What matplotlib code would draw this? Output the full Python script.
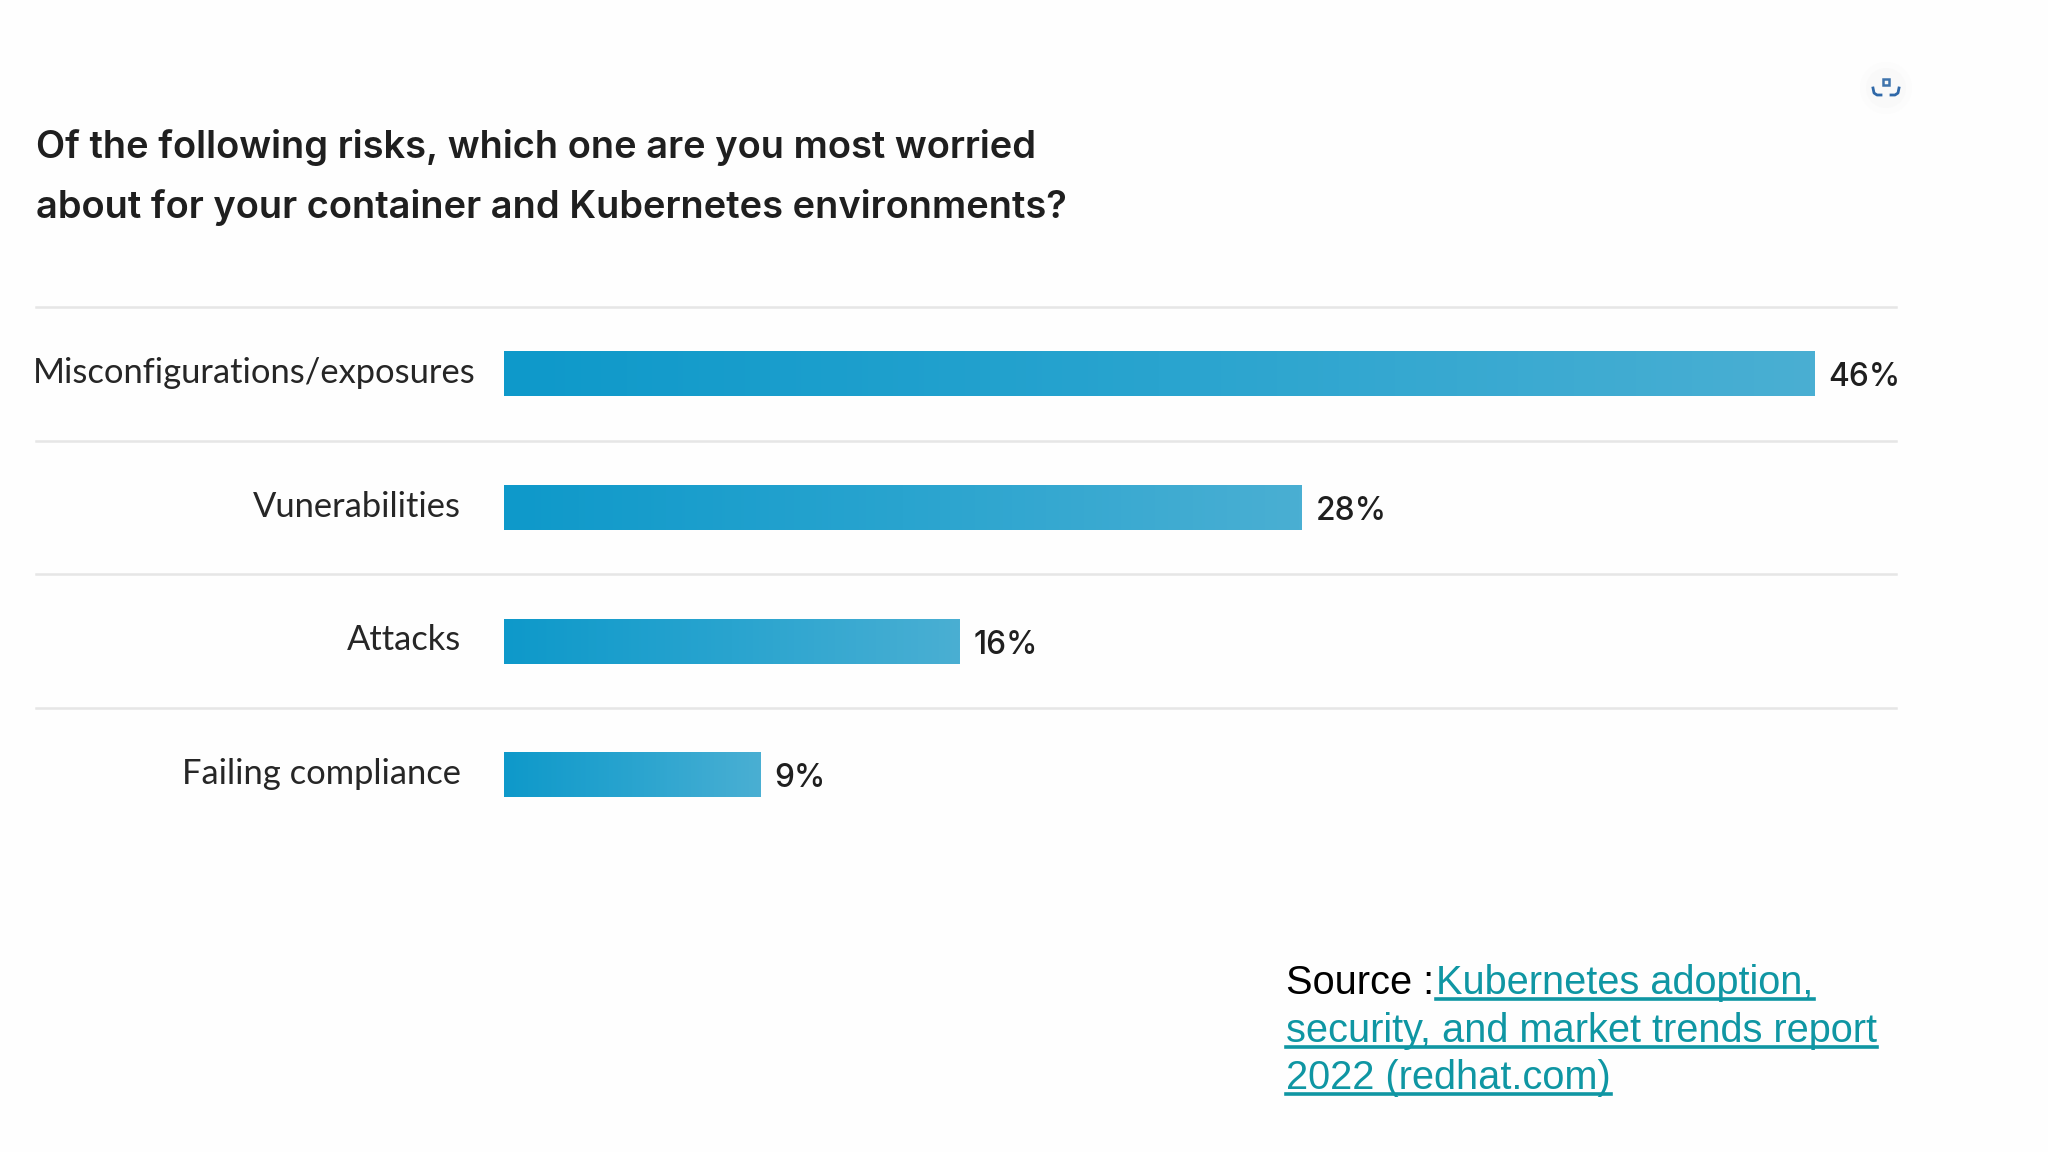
import numpy as np
import matplotlib
matplotlib.use("Agg")
import matplotlib.pyplot as plt
from matplotlib.colors import LinearSegmentedColormap
from matplotlib.lines import Line2D
from matplotlib.patches import Ellipse, Rectangle, Arc

categories = ["Misconfigurations/exposures", "Vunerabilities", "Attacks", "Failing compliance"]
values = [46, 28, 16, 9]
title_lines = ["Of the following risks, which one are you most worried",
               "about for your container and Kubernetes environments?"]
source_prefix = "Source :"
source_link = ["Kubernetes adoption,", "security, and market trends report", "2022 (redhat.com)"]

W, H = 2048, 1152
fig = plt.figure(figsize=(W/100, H/100), dpi=100, facecolor="#fefefe")
FONT = "Inter"
DARK = "#262626"
TEAL = "#0f96a3"

def fx(p): return p / W
def fy(p): return 1 - p / H

# axes: x runs in percent, y in category slots
px_per_pct = (1814 - 504) / 46
left, right = 504, 1897
slot = 133.7
top = 307
ax = fig.add_axes([fx(left), fy(top + slot*4), (right-left)/W, slot*4/H])
ax.axis("off")

cmap = LinearSegmentedColormap.from_list("bar", ["#0e99ca", "#29a4cf", "#4aafd3"])
grad = np.linspace(0, 1, 256).reshape(1, -1)
ys = np.arange(len(values))
bars = ax.barh(ys, values, height=45/slot, color="none", edgecolor="none")
for rect, v, y in zip(bars, values, ys):
    im = ax.imshow(grad, extent=[0, v, y + 0.17, y - 0.17], cmap=cmap, aspect="auto", zorder=2)
    im.set_clip_path(rect)
    ax.annotate(f"{v}%", (v, y), xytext=(14, -4), textcoords="offset pixels",
                va="center", ha="left", fontsize=22.8, fontweight="medium", color="#1f1f1f",
                family=FONT, annotation_clip=False)
ax.set_xlim(0, (right-left)/px_per_pct)
ax.set_ylim(len(values) - 0.5, -0.5)

# category labels
label_right = [476, 461, 461, 461]
label_y = [373, 507, 640, 774]
for c, xr, yy in zip(categories, label_right, label_y):
    fig.text(fx(xr), fy(yy), c, ha="right", va="center", fontsize=24.8, color=DARK,
             family="Lato", fontweight="normal")

# separators
for i in range(4):
    yy = top + i * slot
    fig.add_artist(Line2D([fx(36), fx(1896)], [fy(yy), fy(yy)], color="#e6e6e6", lw=1.8))

# title
for line, yy in zip(title_lines, [147, 207]):
    fig.text(fx(36), fy(yy), line, ha="left", va="center", fontsize=27.4,
             fontweight="semibold", color="#1f1f1f", family=FONT)

# source with underlined link
fig.canvas.draw()
r = fig.canvas.get_renderer()
fs = 28.6
base = [994, 1042, 1089]
t0 = fig.text(fx(1286), fy(base[0]), source_prefix, fontsize=fs, family="Liberation Sans",
              color="black", va="baseline", ha="left")
x_link0 = t0.get_window_extent(r).x1 + 2
xs = [x_link0, 1286, 1286]
for line, xx, yy in zip(source_link, xs, base):
    t = fig.text(fx(xx), fy(yy), line, fontsize=fs, family="Liberation Sans",
                 color=TEAL, va="baseline", ha="left")
    e = t.get_window_extent(r)
    fig.add_artist(Line2D([fx(xx), e.x1/W], [fy(yy+5), fy(yy+5)], color=TEAL, lw=2.6))

# capture icon
cx, cy = 1886, 86
for rad, col in [(26, "#fcfcfc"), (20, "#f9f9f9")]:
    fig.add_artist(Ellipse((fx(cx), fy(cy+2)), 2*rad/W, 2*rad/H, color=col, transform=fig.transFigure, lw=0))
fig.add_artist(Rectangle((fx(cx-3), fy(cy-1)), 6/W, 6/H, fill=False, ec="#3f74ad", lw=1.8, transform=fig.transFigure))
fig.add_artist(Line2D([fx(cx-13), fx(cx-12), fx(cx-9), fx(cx-5)], [fy(cy+2), fy(cy+7), fy(cy+9), fy(cy+9)], color="#2f68a8", lw=2))
fig.add_artist(Line2D([fx(cx+13), fx(cx+12), fx(cx+9), fx(cx+5)], [fy(cy+2), fy(cy+7), fy(cy+9), fy(cy+9)], color="#2f68a8", lw=2))

fig.savefig("out.png", dpi=100, facecolor=fig.get_facecolor())
